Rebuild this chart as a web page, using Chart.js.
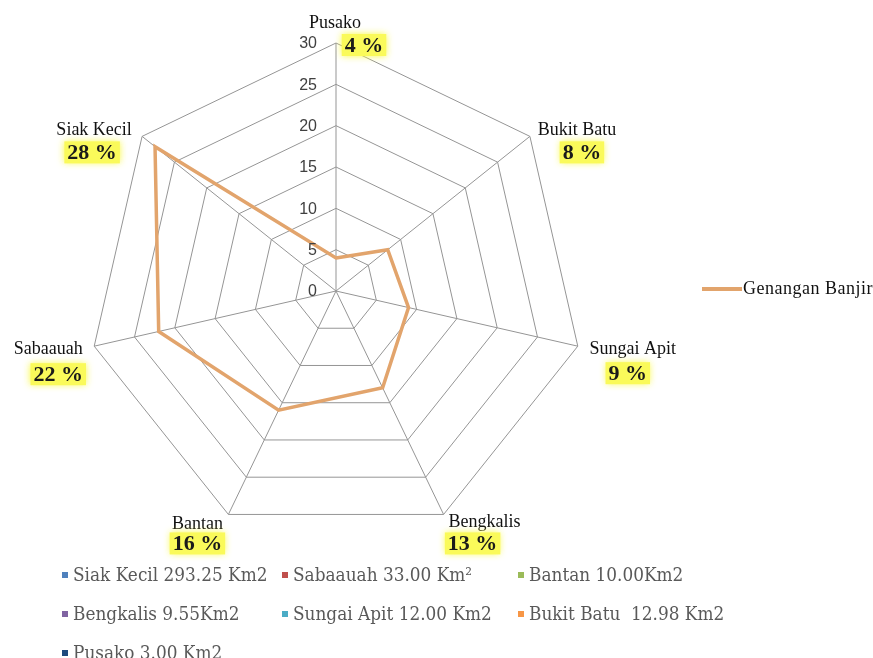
<!DOCTYPE html>
<html>
<head>
<meta charset="utf-8">
<script src="https://cdn.jsdelivr.net/npm/chart.js@4.4.1/dist/chart.umd.min.js"></script>
<style>
  html, body { margin: 0; padding: 0; background: #fff; }
  #wrap { position: relative; width: 873px; height: 658px; overflow: hidden; }
  #c { position: absolute; left: 0; top: 0; }
  #areaLegend {
    position: absolute; left: 62px; top: 554px;
    display: grid; grid-template-columns: 220px 236px auto;
    grid-auto-rows: 39px;
    font-family: "DejaVu Serif", serif; font-size: 19px; color: #595959;
  }
  #areaLegend .item { display: flex; align-items: center; white-space: pre; overflow: visible; min-width: 0; }
  #areaLegend .sq { flex: 0 0 auto; display: inline-block; width: 6px; height: 6px; margin-right: 5px; margin-top: 2px; }
  #areaLegend .txt { flex: 0 0 auto; display: inline-block; white-space: pre; transform: scaleX(0.89); transform-origin: left center; }
</style>
</head>
<body>
<div id="wrap">
  <canvas id="c" width="873" height="658"></canvas>
  <div id="areaLegend"></div>
</div>
<script>
// ---- data ----
const categories = ['Pusako', 'Bukit Batu', 'Sungai Apit', 'Bengkalis', 'Bantan', 'Sabaauah', 'Siak Kecil'];
const genanganBanjir = [4, 8, 9, 13, 16, 22, 28];
const shareLabels = ['4 %', '8 %', '9 %', '13 %', '16 %', '22 %', '28 %'];
const tickValues = [0, 5, 10, 15, 20, 25, 30];
const seriesName = 'Genangan Banjir';
const areaLegendLabels = ['Siak Kecil 293.25 Km2', 'Sabaauah 33.00 Km\u00B2', 'Bantan 10.00Km2',
  'Bengkalis 9.55Km2', 'Sungai Apit 12.00 Km2', 'Bukit Batu  12.98 Km2', 'Pusako 3.00 Km2'];
const areaLegendColors = ['#4F81BD', '#C0504D', '#9BBB59', '#8064A2', '#4BACC6', '#F79646', '#1F497D'];

// ---- label offsets (style: where each category label sits relative to its spoke end) ----
const nameOffsets = [[-1, -20], [47, -6], [55, 3], [41, 8], [-31, 10], [-46, 3], [-48, -6]];
const shareOffsets = [[28, 2], [52, 16], [50, 27], [29, 29], [-31, 29], [-36, 28], [-50, 16]];

const lineColor = '#E2A46C';

// bottom area legend (HTML)
const legEl = document.getElementById('areaLegend');
areaLegendLabels.forEach((lab, i) => {
  const it = document.createElement('div');
  it.className = 'item';
  const sq = document.createElement('span');
  sq.className = 'sq';
  sq.style.background = areaLegendColors[i];
  const tx = document.createElement('span');
  tx.className = 'txt';
  tx.textContent = lab;
  it.appendChild(sq); it.appendChild(tx);
  legEl.appendChild(it);
});

const labelPlugin = {
  id: 'customLabels',
  afterDraw(chart) {
    const ctx = chart.ctx;
    const r = chart.scales.r;
    ctx.save();
    // tick labels, left of the vertical spoke
    ctx.font = '16px "Liberation Sans", sans-serif';
    ctx.fillStyle = '#404040';
    ctx.textAlign = 'right';
    ctx.textBaseline = 'middle';
    tickValues.forEach(v => {
      const y = r.yCenter - r.getDistanceFromCenterForValue(v);
      ctx.fillText(String(v), r.xCenter - 19, y + 1);
    });
    // category labels
    categories.forEach((name, i) => {
      const p = r.getPointPosition(i, r.drawingArea);
      ctx.textAlign = 'center';
      ctx.textBaseline = 'middle';
      ctx.font = '18px "Liberation Serif", serif';
      ctx.fillStyle = '#111';
      ctx.fillText(name, p.x + nameOffsets[i][0], p.y + nameOffsets[i][1]);
      // highlighted share
      const sx = p.x + shareOffsets[i][0], sy = p.y + shareOffsets[i][1];
      ctx.font = 'bold 22px "Liberation Serif", serif';
      const w = ctx.measureText(shareLabels[i]).width;
      ctx.save();
      ctx.shadowColor = 'rgba(250,250,60,0.95)';
      ctx.shadowBlur = 7;
      ctx.fillStyle = '#FAFA5A';
      ctx.fillRect(sx - w / 2 - 3, sy - 11, w + 6, 22);
      ctx.restore();
      ctx.fillStyle = '#1a1a1a';
      ctx.fillText(shareLabels[i], sx, sy + 1);
    });
    // series legend on the right
    const lx = chart.chartArea.right + 118;
    const ly = r.yCenter - 2;
    ctx.strokeStyle = lineColor;
    ctx.lineWidth = 4;
    ctx.beginPath();
    ctx.moveTo(lx, ly);
    ctx.lineTo(lx + 40, ly);
    ctx.stroke();
    ctx.font = '18px "Liberation Serif", serif';
    ctx.fillStyle = '#111';
    ctx.textAlign = 'left';
    ctx.textBaseline = 'middle';
    if ('letterSpacing' in ctx) ctx.letterSpacing = '0.5px';
    ctx.fillText(seriesName, lx + 41, ly);
    ctx.restore();
  }
};

new Chart(document.getElementById('c'), {
  type: 'radar',
  data: {
    labels: categories,
    datasets: [{
      label: seriesName,
      data: genanganBanjir,
      borderColor: lineColor,
      borderWidth: 3.5,
      fill: false,
      pointRadius: 0,
      pointHoverRadius: 0,
      tension: 0
    }]
  },
  options: {
    responsive: false,
    animation: false,
    devicePixelRatio: 1,
    layout: { padding: { left: 88, right: 289, top: 43, bottom: 119 } },
    plugins: { legend: { display: false }, tooltip: { enabled: false } },
    scales: {
      r: {
        min: 0, max: 30,
        ticks: { display: false, stepSize: 5 },
        grid: { color: '#959595', lineWidth: 1 },
        angleLines: { color: '#959595', lineWidth: 1 },
        pointLabels: { display: false }
      }
    }
  },
  plugins: [labelPlugin]
});
</script>
</body>
</html>
